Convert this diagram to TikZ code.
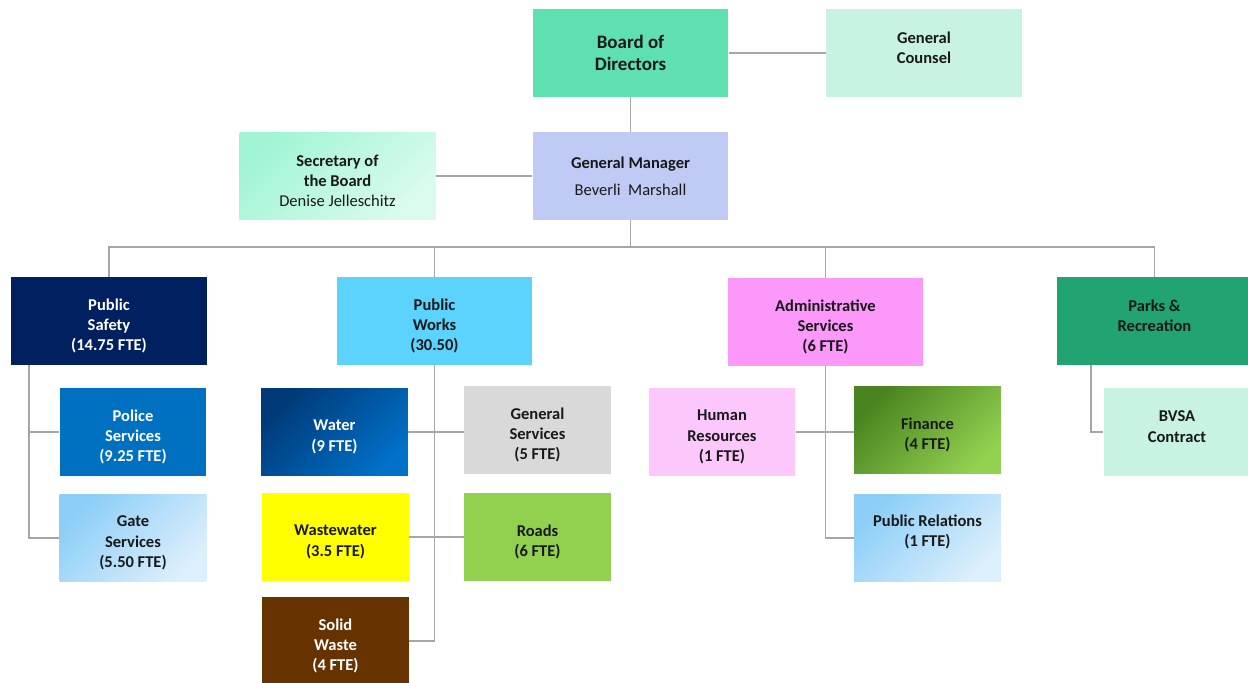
\documentclass[tikz,border=0pt]{standalone}
\usepackage{fontspec}
\setmainfont{Carlito}
\definecolor{board}{HTML}{5EE0B0}
\definecolor{counsel}{HTML}{C8F3E3}
\definecolor{manager}{HTML}{C0CBF5}
\definecolor{secA}{HTML}{A2F5D4}
\definecolor{secB}{HTML}{DAFBEE}
\definecolor{safety}{HTML}{002060}
\definecolor{works}{HTML}{5CD3FC}
\definecolor{admin}{HTML}{FB98FA}
\definecolor{parks}{HTML}{22A372}
\definecolor{police}{HTML}{0070C0}
\definecolor{skyA}{HTML}{8CCEF7}
\definecolor{skyB}{HTML}{DDEFFC}
\definecolor{waterA}{HTML}{003A78}
\definecolor{waterB}{HTML}{0070C8}
\definecolor{gensvc}{HTML}{D9D9D9}
\definecolor{waste}{HTML}{FFFF00}
\definecolor{roads}{HTML}{92D050}
\definecolor{solid}{HTML}{663300}
\definecolor{hr}{HTML}{FCC8FC}
\definecolor{finA}{HTML}{4A8420}
\definecolor{finB}{HTML}{92D050}
\begin{document}
\begin{tikzpicture}[x=0.02cm,y=-0.02cm,
  box/.style={minimum width=3.92cm,minimum height=1.76cm,inner sep=2pt,align=center,
    font=\fontsize{9.4}{11.6}\selectfont\bfseries,text=black!90,
    execute at begin node={\vbox\bgroup\vskip5.6pt},execute at end node={\egroup}},
  small/.style={box,minimum width=2.94cm},
  fade/.style 2 args={top color=#1,bottom color=#2,shading angle=45},
  link/.style={draw=black!35,line width=0.6pt}]
  \useasboundingbox (0,0) rectangle (1248,683);
  \node[box,fill=board,font=\fontsize{10.8}{12.6}\selectfont\bfseries] (board) at (630.5,53) {Board of\\Directors\\[-7pt]};
  \node[box,fill=counsel] (counsel) at (924,53) {General\\Counsel\\};
  \node[box,fill=manager] (gm) at (630.5,176) {General Manager\\[4pt]\mdseries Beverli\ \ Marshall\\[-6pt]};
  \node[box,fade={secA}{secB}] (sec) at (337.5,176) {Secretary of\\the Board\\\mdseries Denise Jelleschitz};
  \node[box,fill=safety,text=white] (safety) at (109,321) {Public\\Safety\\(14.75 FTE)};
  \node[box,fill=works] (works) at (434.5,321) {Public\\Works\\(30.50)};
  \node[box,fill=admin] (admin) at (825.5,322) {Administrative\\Services\\(6 FTE)};
  \node[box,fill=parks] (parks) at (1154.5,321) {Parks \&\\Recreation\\};
  \node[small,fill=police,text=white] (police) at (133,432) {Police\\Services\\(9.25 FTE)};
  \node[small,fade={skyA}{skyB}] (gate) at (133,538) {Gate\\Services\\(5.50 FTE)};
  \node[small,fade={waterA}{waterB},text=white] (water) at (334.5,432) {Water\\(9 FTE)};
  \node[small,fill=gensvc] (gensvc) at (537.5,430) {General\\Services\\(5 FTE)};
  \node[small,fill=waste] (waste) at (335.5,537) {Wastewater\\(3.5 FTE)};
  \node[small,fill=roads] (roads) at (537.5,537) {Roads\\(6 FTE)};
  \node[small,fill=solid,text=white] (solid) at (335.5,641) {Solid\\Waste\\(4 FTE)};
  \node[small,fill=hr] (hr) at (722,432) {Human\\Resources\\(1 FTE)};
  \node[small,fade={finA}{finB}] (finance) at (927.5,430) {Finance\\(4 FTE)};
  \node[small,fade={skyA}{skyB}] (pr) at (927.5,538) {Public Relations\\(1 FTE)\\[2pt]};
  \node[small,fill=counsel] (bvsa) at (1177,432) {BVSA\\Contract\\};
  \coordinate (bus) at (630.5,247);
  \coordinate (psx) at (29,0);
  \coordinate (pkx) at (1091,0);
  \draw[link] (board.east) -- (counsel.west);
  \draw[link] (board.south) -- (gm.north);
  \draw[link] (sec.east) -- (gm.west);
  \draw[link] (gm.south) -- (bus);
  \draw[link] (safety.north) |- (bus) -| (parks.north);
  \draw[link] (works.north) -- (works.north |- bus);
  \draw[link] (admin.north) -- (admin.north |- bus);
  \draw[link] (safety.south -| psx) |- (gate.west);
  \draw[link] (psx |- police.west) -- (police.west);
  \draw[link] (works.south) |- (solid.east);
  \draw[link] (water.east) -- (water.east -| gensvc.west);
  \draw[link] (waste.east) -- (roads.west);
  \draw[link] (admin.south) |- (pr.west);
  \draw[link] (hr.east) -- (hr.east -| finance.west);
  \draw[link] (parks.south -| pkx) |- (bvsa.west);
\end{tikzpicture}
\end{document}
